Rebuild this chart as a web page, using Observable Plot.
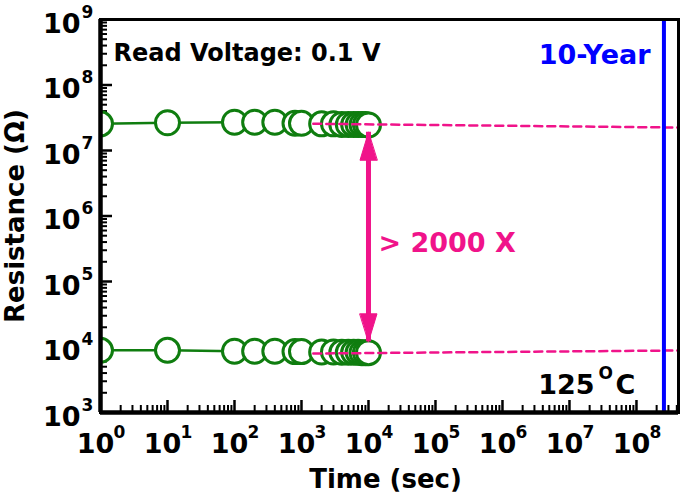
<!DOCTYPE html>
<html><head><meta charset="utf-8">
<script src="https://cdn.jsdelivr.net/npm/d3@7"></script>
<script src="https://cdn.jsdelivr.net/npm/@observablehq/plot@0.6"></script>
<style>
body{margin:0;background:#fff;}
</style></head><body><div id="chart"></div>
<script>
// Measured retention data (Time in sec, Resistance in ohm)
const times = [1, 10, 100, 200, 400, 800, 1000, 2000, 3000, 4000, 5000, 6000, 7000, 8000, 9000, 10000];
const highR = [2.55e7, 2.65e7, 2.7e7, 2.7e7, 2.7e7, 2.6e7, 2.6e7, 2.55e7, 2.55e7, 2.5e7, 2.5e7, 2.5e7, 2.5e7, 2.5e7, 2.5e7, 2.45e7];
const lowR  = [8.9e3, 8.9e3, 8.6e3, 8.6e3, 8.6e3, 8.5e3, 8.5e3, 8.4e3, 8.4e3, 8.3e3, 8.3e3, 8.3e3, 8.3e3, 8.2e3, 8.2e3, 8.2e3];
// Extrapolation lines
const trendTimes = [1500, 4.24e8];
const highTrend = [2.56e7, 2.24e7];
const lowTrend = [7.95e3, 8.85e3];
// Annotations
const tenYear = 2.57e8;
const arrowTime = 1e4;
const arrowTop = 1.9e7;
const arrowBottom = 1.2e4;
// Axis ticks
const xDomain = [1, 4.24e8];
const yDomain = [1e3, 1e9];
const xTickExps = [0, 1, 2, 3, 4, 5, 6, 7, 8];
const yTickExps = [3, 4, 5, 6, 7, 8, 9];
const tickBase = "10";
const xTitle = "Time (sec)";
const yTitle = "Resistance (\u03A9)";
const readText = "Read Voltage: 0.1 V";
const yearText = "10-Year";
const ratioText = "> 2000 X";
const tempValue = "125";
const tempSup = "O";
const tempUnit = "C";

const green = "#0f7d0f", pink = "#f0138a", blue = "#0000ff";

const xMajor = xTickExps.map(e => 10 ** e);
const yMajor = yTickExps.map(e => 10 ** e);
const minor = (exps, max) => exps.flatMap(e => [2,3,4,5,6,7,8,9].map(m => m * 10 ** e)).filter(v => v < max);
const xMinor = minor(xTickExps, xDomain[1]);
const yMinor = minor(yTickExps, yDomain[1]);

const hi = times.map((t, i) => ({t, r: highR[i]}));
const lo = times.map((t, i) => ({t, r: lowR[i]}));
const hiT = trendTimes.map((t, i) => ({t, r: highTrend[i]}));
const loT = trendTimes.map((t, i) => ({t, r: lowTrend[i]}));
const heads = [{t: arrowTime, r: arrowTop, rot: 0}, {t: arrowTime, r: arrowBottom, rot: 180}];
const headShape = {draw(ctx, l, r) { ctx.moveTo(0, 0); ctx.lineTo(-r, l); ctx.lineTo(r, l); ctx.closePath(); }};

const supX = d => String(xTickExps[xMajor.indexOf(d)]);
const supY = d => String(yTickExps[yMajor.indexOf(d)]);

const chart = Plot.plot({
  width: 685, height: 498,
  marginLeft: 100, marginRight: 7, marginTop: 19, marginBottom: 86,
  x: {type: "log", domain: xDomain, label: null},
  y: {type: "log", domain: yDomain, label: null},
  style: {fontFamily: "DejaVu Sans", fontWeight: "bold", background: "white", color: "black"},
  marks: [
    // inward ticks
    Plot.axisX(xMinor, {tickSize: 7, dy: -7, tickFormat: () => "", strokeWidth: 2, label: null}),
    Plot.axisX(xMajor, {tickSize: 12, dy: -12, tickFormat: () => "", strokeWidth: 2.5, label: null}),
    Plot.axisY(yMinor, {tickSize: 7, dx: 7, tickFormat: () => "", strokeWidth: 2, label: null}),
    Plot.axisY(yMajor, {tickSize: 12, dx: 12, tickFormat: () => "", strokeWidth: 2.5, label: null}),
    // tick labels with superscripts
    Plot.axisX(xMajor, {tickSize: 0, tickPadding: 40, lineAnchor: "bottom", dx: -5, tickFormat: () => tickBase, fontSize: 27, label: null}),
    Plot.axisX(xMajor, {tickSize: 0, tickPadding: 25, lineAnchor: "bottom", dx: 13, textAnchor: "start", tickFormat: supX, fontSize: 17, label: null}),
    Plot.axisY(yMajor, {tickSize: 0, tickPadding: 20, lineAnchor: "bottom", dy: 13, tickFormat: () => tickBase, fontSize: 27, label: null}),
    Plot.axisY(yMajor, {tickSize: 0, tickPadding: 19, lineAnchor: "bottom", dy: -2, textAnchor: "start", tickFormat: supY, fontSize: 17, label: null}),
    // data
    Plot.line(hi, {x: "t", y: "r", stroke: green, strokeWidth: 2.5, clip: true}),
    Plot.line(lo, {x: "t", y: "r", stroke: green, strokeWidth: 2.5, clip: true}),
    Plot.dot(hi, {x: "t", y: "r", r: 12, fill: "white", stroke: green, strokeWidth: 3, clip: true}),
    Plot.dot(lo, {x: "t", y: "r", r: 12, fill: "white", stroke: green, strokeWidth: 3, clip: true}),
    Plot.line(hiT, {x: "t", y: "r", stroke: pink, strokeWidth: 2.5, strokeDasharray: "8,5"}),
    Plot.line(loT, {x: "t", y: "r", stroke: pink, strokeWidth: 2.5, strokeDasharray: "8,5"}),
    Plot.ruleX([tenYear], {stroke: blue, strokeWidth: 4}),
    Plot.ruleX([arrowTime], {y1: arrowBottom, y2: arrowTop, stroke: pink, strokeWidth: 5}),
    Plot.vector(heads, {x: "t", y: "r", rotate: "rot", length: 28, r: 8.5, anchor: "start", shape: headShape, fill: pink, stroke: pink, strokeWidth: 1}),
    // frame
    Plot.frame({strokeWidth: 3}),
    Plot.ruleX([xDomain[0]], {strokeWidth: 4.5}),
    Plot.ruleY([yDomain[0]], {strokeWidth: 4.5}),
    // annotations
    Plot.text([readText], {frameAnchor: "top-left", dx: 13, dy: 41, lineAnchor: "bottom", textAnchor: "start", fontSize: 24, fontWeight: "bold"}),
    Plot.text([yearText], {frameAnchor: "top-right", dx: -28, dy: 44, lineAnchor: "bottom", textAnchor: "end", fontSize: 27, fontWeight: "bold", fill: blue}),
    Plot.text([ratioText], {x: [arrowTime], frameAnchor: "middle", dx: 10, dy: 36, lineAnchor: "bottom", textAnchor: "start", fontSize: 27, fontWeight: "bold", fill: pink}),
    Plot.text([tempValue], {frameAnchor: "bottom-right", dx: -84, dy: -19, lineAnchor: "bottom", textAnchor: "end", fontSize: 27, fontWeight: "bold"}),
    Plot.text([tempSup], {frameAnchor: "bottom-right", dx: -80, dy: -34, lineAnchor: "bottom", textAnchor: "start", fontSize: 17, fontWeight: "bold"}),
    Plot.text([tempUnit], {frameAnchor: "bottom-right", dx: -63, dy: -19, lineAnchor: "bottom", textAnchor: "start", fontSize: 27, fontWeight: "bold"}),
    Plot.text([yTitle], {frameAnchor: "left", rotate: -90, dx: -85, textAnchor: "middle", fontSize: 26, fontWeight: "bold"}),
    Plot.text([xTitle], {frameAnchor: "bottom", dx: -4, dy: 75, lineAnchor: "bottom", fontSize: 26, fontWeight: "bold"})
  ]
});
document.getElementById("chart").append(chart);
</script>
</body></html>
